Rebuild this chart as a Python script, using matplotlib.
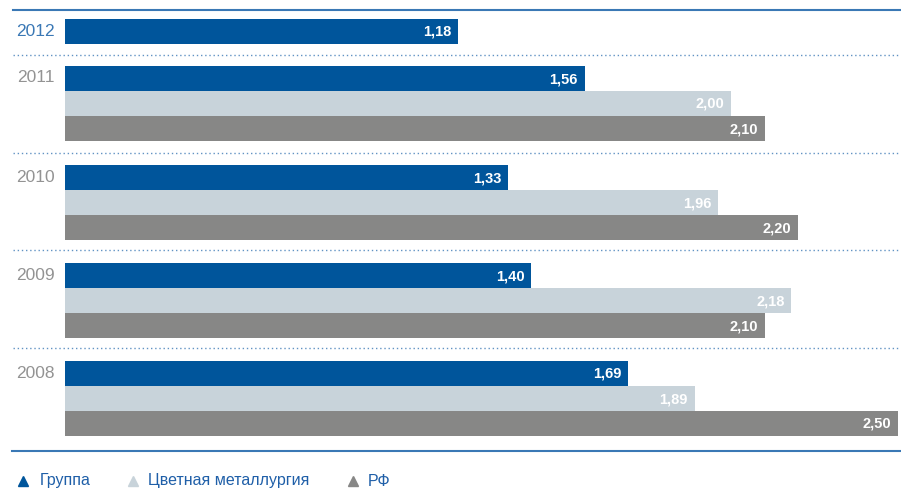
import matplotlib
matplotlib.use('Agg')
import matplotlib.pyplot as plt

plt.rcParams['font.family'] = ['Liberation Sans', 'DejaVu Sans']

years = ['2012', '2011', '2010', '2009', '2008']
group = [1.18, 1.56, 1.33, 1.40, 1.69]
metal = [None, 2.00, 1.96, 2.18, 1.89]
rf = [None, 2.10, 2.20, 2.10, 2.50]
series_names = ['Группа', 'Цветная металлургия', 'РФ']

c_blue = '#00559b'
c_light = '#c8d3da'
c_gray = '#878786'
c_line = '#3a78b5'

# layout in pixels (top of first bar in each group)
tops = [19.5, 66.5, 166, 264, 361.5]
bh = 25

fig = plt.figure(figsize=(9.01, 4.89), dpi=100)
bg = fig.add_axes([0, 0, 1, 1])
bg.set_xlim(0, 901)
bg.set_ylim(489, 0)
bg.axis('off')

ax = fig.add_axes([65 / 901, 0, 833 / 901, 1])
ax.set_xlim(0, 2.5)
ax.set_ylim(489, 0)
ax.axis('off')

def fmt(v):
    return ('%.2f' % v).replace('.', ',')

for i, yr in enumerate(years):
    vals = [group[i], metal[i], rf[i]]
    cols = [c_blue, c_light, c_gray]
    for k, (v, c) in enumerate(zip(vals, cols)):
        if v is None:
            continue
        y = tops[i] + k * bh + bh / 2
        ax.barh(y, v, height=bh, color=c, edgecolor='none')
        ax.annotate(fmt(v), (v, y), xytext=(-5, 0), textcoords='offset points',
                    ha='right', va='center', color='white', fontsize=10.5,
                    fontweight='bold')
    bg.text(55, tops[i] + bh / 2 - 1, yr, ha='right', va='center', fontsize=12.5,
            color=c_line if i == 0 else '#939393')

# separators
bg.plot([13, 901], [11, 11], color=c_line, lw=1.5)
bg.plot([12, 901], [452, 452], color=c_line, lw=1.5)
for y in [56, 154, 251, 349]:
    bg.plot([13, 901], [y, y], color=c_line, lw=1, ls=(0, (1, 2)), alpha=0.8)

# legend
leg_x = [23, 133, 353]
txt_x = [40, 148, 368]
for mx, tx, c, name in zip(leg_x, txt_x, [c_blue, c_light, c_gray], series_names):
    bg.plot(mx, 482, marker='^', color=c, markersize=7, ls='none')
    bg.text(tx, 481, name, ha='left', va='center', fontsize=11.5, color='#1f5fa8')

fig.savefig('out.png', dpi=100)
